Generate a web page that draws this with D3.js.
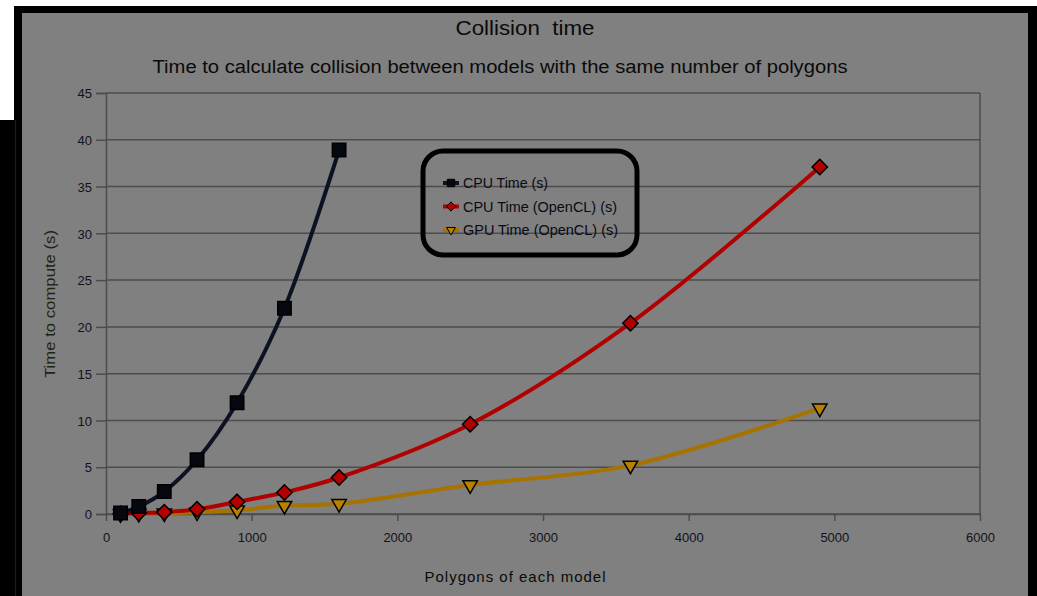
<!DOCTYPE html>
<meta charset="utf-8">
<script src="https://cdn.jsdelivr.net/npm/d3@7"></script>
<style>
  body { margin: 0; background: #fff; }
  text { font-family: "Liberation Sans", Arial, sans-serif; }
</style>
<div id="my_dataviz"></div>
<script>

// data
var polygons = [100, 225, 400, 625, 900, 1225, 1600, 2500, 3600, 4900];
var cpuTime = [0.1, 0.8, 2.4, 5.8, 11.9, 22.0, 38.9];
var cpuOpenCL = [0.02, 0.1, 0.2, 0.5, 1.3, 2.3, 3.9, 9.6, 20.4, 37.1];
var gpuOpenCL = [0.0, 0.05, 0.1, 0.2, 0.4, 0.9, 1.1, 3.1, 5.2, 11.3];
var seriesNames = ["CPU Time (s)", "CPU Time (OpenCL) (s)", "GPU Time (OpenCL) (s)"];
var xTicks = [0, 1000, 2000, 3000, 4000, 5000, 6000];
var yTicks = [0, 5, 10, 15, 20, 25, 30, 35, 40, 45];

var W = 1037, H = 596;
var margin = {top: 93, right: 57, bottom: 82, left: 106},
    width = W - margin.left - margin.right,
    height = H - margin.top - margin.bottom;

var svg = d3.select("#my_dataviz")
  .append("svg")
    .attr("width", W)
    .attr("height", H);

// frame: white corner, black border, gray panel
svg.append("rect").attr("x", 0).attr("y", 0).attr("width", W).attr("height", H).attr("fill", "#fff");
svg.append("rect").attr("x", 0).attr("y", 120).attr("width", 22).attr("height", H - 120).attr("fill", "#000");
svg.append("rect").attr("x", 14).attr("y", 6).attr("width", W - 14).attr("height", H - 6).attr("fill", "#000");
svg.append("rect").attr("x", 22).attr("y", 13).attr("width", 1028 - 22).attr("height", H - 13).attr("fill", "#808080");
svg.append("line").attr("x1", 15.5).attr("x2", 15.5).attr("y1", 120).attr("y2", H)
  .attr("stroke", "#1c1c1c").attr("stroke-width", 1.2);

var g = svg.append("g")
    .attr("transform", "translate(" + margin.left + "," + margin.top + ")");

var x = d3.scaleLinear().domain([0, 6000]).range([0, width]);
var y = d3.scaleLinear().domain([0, 45]).range([height, 0]);

// horizontal grid
g.append("g")
  .selectAll("line")
  .data(yTicks)
  .enter()
  .append("line")
    .attr("x1", 0).attr("x2", width)
    .attr("y1", function(d) { return y(d); })
    .attr("y2", function(d) { return y(d); })
    .attr("stroke", "#4c4c4c")
    .attr("stroke-width", 1.5);

// right border
g.append("line").attr("x1", width).attr("x2", width).attr("y1", 0).attr("y2", height)
  .attr("stroke", "#4c4c4c").attr("stroke-width", 1.5);

// axes
var yAxis = g.append("g")
  .call(d3.axisLeft(y).tickValues(yTicks).tickSize(10).tickPadding(4).tickFormat(d3.format("d")));
var xAxis = g.append("g")
  .attr("transform", "translate(0," + height + ")")
  .call(d3.axisBottom(x).tickValues(xTicks).tickSize(7).tickPadding(12).tickSizeOuter(0).tickFormat(d3.format("d")));

[yAxis, xAxis].forEach(function(a) {
  a.select(".domain").attr("stroke", "#4c4c4c").attr("stroke-width", 1.5);
  a.selectAll(".tick line").attr("stroke", "#4c4c4c").attr("stroke-width", 1.5);
  a.selectAll("text")
    .attr("fill", "#12121c")
    .style("font-size", "13px")
    .style("font-family", "'Liberation Sans', Arial, sans-serif");
});
yAxis.selectAll("text").attr("dy", "0.36em");

var series = [
  {name: seriesNames[0], values: cpuTime, line: "#0d1222", fill: "#06080f", shape: "square"},
  {name: seriesNames[1], values: cpuOpenCL, line: "#b00000", fill: "#b00000", shape: "diamond"},
  {name: seriesNames[2], values: gpuOpenCL, line: "#a87200", fill: "#b88200", shape: "triangle"}
];

var symbols = {
  square: d3.symbol().type(d3.symbolSquare).size(180),
  diamond: d3.symbol().type(d3.symbolDiamond2).size(150),
  triangle: d3.symbol().type(d3.symbolTriangle2).size(150)
};

var line = d3.line()
  .x(function(d) { return x(d[0]); })
  .y(function(d) { return y(d[1]); })
  .curve(d3.curveCatmullRom.alpha(0.5));

// draw gold first so the others sit on top
series.slice().reverse().forEach(function(s) {
  var pts = s.values.map(function(v, i) { return [polygons[i], v]; });
  g.append("path")
    .datum(pts)
    .attr("fill", "none")
    .attr("stroke", s.line)
    .attr("stroke-width", 4)
    .attr("d", line);
});

series.slice().reverse().forEach(function(s) {
  var pts = s.values.map(function(v, i) { return [polygons[i], v]; });
  g.selectAll("mark")
    .data(pts)
    .enter()
    .append("path")
      .attr("d", symbols[s.shape])
      .attr("transform", function(d) {
        var r = s.shape === "triangle" ? " rotate(180)" : "";
        return "translate(" + x(d[0]) + "," + y(d[1]) + ")" + r;
      })
      .attr("fill", s.fill)
      .attr("stroke", "#000")
      .attr("stroke-width", 1.5);
});

// titles
svg.append("text")
  .attr("x", 525).attr("y", 35)
  .attr("text-anchor", "middle")
  .style("font-size", "21px")
  .style("white-space", "pre")
  .attr("textLength", 139)
  .attr("lengthAdjust", "spacingAndGlyphs")
  .attr("fill", "#0a0a0a")
  .text("Collision  time");

svg.append("text")
  .attr("x", 500).attr("y", 73)
  .attr("text-anchor", "middle")
  .style("font-size", "18px")
  .attr("textLength", 695)
  .attr("lengthAdjust", "spacingAndGlyphs")
  .attr("fill", "#0a0a0a")
  .text("Time to calculate collision between models with the same number of polygons");

svg.append("text")
  .attr("x", 515).attr("y", 582)
  .attr("text-anchor", "middle")
  .style("font-size", "15px")
  .attr("textLength", 181)
  .attr("fill", "#0a0a0a")
  .text("Polygons of each model");

svg.append("text")
  .attr("transform", "translate(55,304) rotate(-90)")
  .attr("text-anchor", "middle")
  .style("font-size", "15px")
  .attr("textLength", 148)
  .attr("lengthAdjust", "spacingAndGlyphs")
  .attr("fill", "#1e2410")
  .text("Time to compute (s)");

// legend
var legend = svg.append("g");
legend.append("rect")
  .attr("x", 423).attr("y", 151)
  .attr("width", 214).attr("height", 104)
  .attr("rx", 20).attr("ry", 20)
  .attr("fill", "none")
  .attr("stroke", "#000")
  .attr("stroke-width", 5);

var legendLen = [85, 154, 155];
series.forEach(function(s, i) {
  var ly = 183 + i * 23.5;
  legend.append("line")
    .attr("x1", 443).attr("x2", 459).attr("y1", ly).attr("y2", ly)
    .attr("stroke", s.line).attr("stroke-width", 4);
  legend.append("path")
    .attr("d", d3.symbol().type(s.shape === "square" ? d3.symbolSquare : s.shape === "diamond" ? d3.symbolDiamond2 : d3.symbolTriangle2).size(55))
    .attr("transform", "translate(451," + ly + ")" + (s.shape === "triangle" ? " rotate(180)" : ""))
    .attr("fill", s.fill).attr("stroke", "#000").attr("stroke-width", 1);
  legend.append("text")
    .attr("x", 463).attr("y", ly + 5)
    .style("font-size", "14px")
    .attr("textLength", legendLen[i])
    .attr("lengthAdjust", "spacingAndGlyphs")
    .attr("fill", "#0a0a14")
    .text(s.name);
});

</script>
